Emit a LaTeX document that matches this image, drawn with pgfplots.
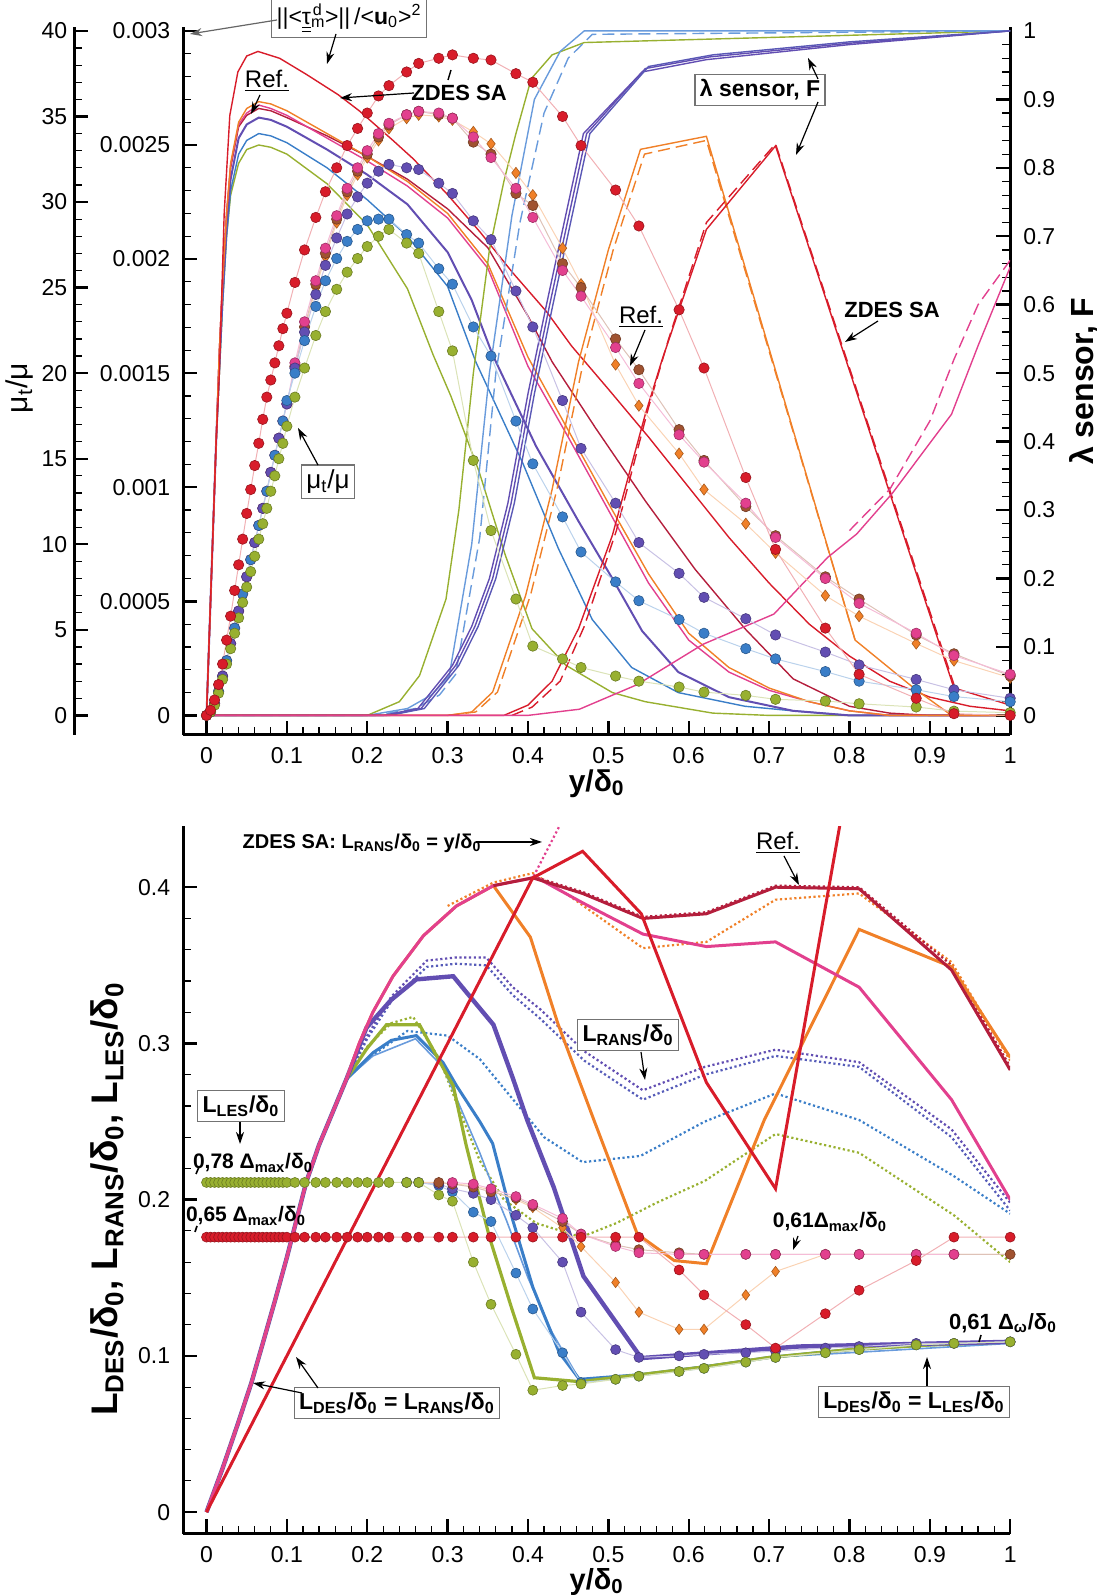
\documentclass[border=0pt]{standalone}
\usepackage{pgfplots}
\pgfplotsset{compat=1.18}
\usepackage{fontspec}
\setmainfont{Liberation Sans}
\usetikzlibrary{arrows.meta}

\definecolor{cRed}{RGB}{216,28,42}
\definecolor{cDRed}{RGB}{180,30,60}
\definecolor{cPink}{RGB}{226,64,142}
\definecolor{cOrange}{RGB}{240,128,40}
\definecolor{cBrown}{RGB}{160,82,48}
\definecolor{cViolet}{RGB}{98,78,178}
\definecolor{cBlue}{RGB}{58,126,200}
\definecolor{cLBlue}{RGB}{105,155,220}
\definecolor{cGreen}{RGB}{152,176,48}

\newcommand{\ssub}[1]{\textsubscript{#1}}
\newcommand{\dz}{δ\textsubscript{0}}

\pgfplotsset{
  geo/.style={scale only axis, width=413.5pt, height=353.6pt, xmin=-0.029, xmax=1},
  frame/.style={axis line style={line width=1.5pt}, tick align=inside,
    major tick length=7pt, minor tick length=4pt,
    major tick style={line width=1.2pt, black}, minor tick style={line width=0.6pt, black},
    tick label style={font=\fontsize{11.5}{13}\selectfont},
    /pgf/number format/assume math mode=true},
  tl/.style={line width=0.7pt, no markers},
  dot/.style={line width=0.5pt, color=#1!35, mark=*, mark size=2.6pt,
    mark options={fill=#1, draw=#1!70!black, line width=0.3pt, solid}},
  dia/.style={line width=0.5pt, color=#1!35, mark=diamond*, mark size=2.8pt,
    mark options={fill=#1, draw=#1!70!black, line width=0.3pt, solid}},
  bdot/.style={line width=0.5pt, color=#1!35, mark=*, mark size=2.5pt,
    mark options={fill=#1, draw=#1!70!black, line width=0.3pt, solid}},
  bdia/.style={line width=0.5pt, color=#1!35, mark=diamond*, mark size=2.6pt,
    mark options={fill=#1, draw=#1!70!black, line width=0.3pt, solid}},
  dott/.style={line width=1.1pt, dash pattern=on 1.1pt off 1.3pt, no markers},
}

\begin{document}
\begin{tikzpicture}
\path[use as bounding box] (0,0) rectangle (548.5pt,797.5pt);

%================ TOP PANEL: tau lines =================
\begin{axis}[geo, at={(91.6pt,430.15pt)}, anchor=south west,
  ymin=-0.0000845, ymax=0.003015,
  axis x line*=bottom, axis y line*=left,
  xtick={0,0.1,0.2,0.3,0.4,0.5,0.6,0.7,0.8,0.9,1}, minor x tick num=4,
  ytick={0,0.0005,0.001,0.0015,0.002,0.0025,0.003}, minor y tick num=4,
  scaled y ticks=false,
  yticklabel style={/pgf/number format/fixed, /pgf/number format/precision=4, xshift=-3pt},
  xticklabel style={/pgf/number format/fixed, /pgf/number format/precision=1, yshift=-3pt},
  xlabel={y/\dz}, xlabel style={font=\fontsize{15}{17}\selectfont\bfseries, at={(axis description cs:0.5,-0.069)}, anchor=center},
  frame]
\addplot[tl, cGreen] coordinates {(0,0)(0.004,0.0004)(0.008,0.0008)(0.012,0.0012)(0.016,0.0015)(0.02,0.0018)(0.025,0.0021)(0.03,0.00228)(0.04,0.00242)(0.05,0.00248)(0.065,0.0025)(0.08,0.00249)(0.1,0.00246)(0.15,0.00233)(0.2,0.00215)(0.25,0.00187)(0.282,0.00158)(0.304,0.0014)(0.339,0.00107)(0.372,0.0007)(0.405,0.00038)(0.447,0.00022)(0.505,0.0001)(0.546,0.00006)(0.63,0.00001)(0.7,0)(1,0)};
\addplot[tl, cBlue] coordinates {(0,0)(0.004,0.0004)(0.008,0.0008)(0.012,0.0012)(0.016,0.0015)(0.02,0.0018)(0.025,0.0021)(0.03,0.0023)(0.04,0.00246)(0.05,0.00252)(0.065,0.00255)(0.08,0.00254)(0.1,0.00251)(0.15,0.0024)(0.2,0.00226)(0.25,0.0021)(0.3,0.00188)(0.335,0.00155)(0.393,0.00111)(0.438,0.00073)(0.48,0.00042)(0.529,0.00021)(0.587,0.0001)(0.67,0.00004)(0.73,0.00002)(0.8,0)(1,0)};
\addplot[tl, cViolet, line width=1pt] coordinates {(0,0)(0.004,0.0004)(0.008,0.0008)(0.012,0.0012)(0.016,0.00155)(0.02,0.00185)(0.025,0.00215)(0.03,0.00235)(0.04,0.00253)(0.05,0.00259)(0.065,0.00262)(0.08,0.00261)(0.1,0.00258)(0.125,0.00253)(0.15,0.00248)(0.2,0.00237)(0.25,0.00224)(0.3,0.00203)(0.33,0.00182)(0.356,0.00158)(0.41,0.00118)(0.463,0.00085)(0.505,0.0006)(0.542,0.00037)(0.587,0.00019)(0.65,0.00008)(0.73,0.00002)(0.8,0)(1,0)};
\addplot[tl, cDRed] coordinates {(0,0)(0.004,0.0004)(0.008,0.0008)(0.012,0.0012)(0.016,0.0016)(0.02,0.0019)(0.025,0.0022)(0.03,0.0024)(0.04,0.00258)(0.05,0.00263)(0.065,0.00266)(0.08,0.00265)(0.1,0.00262)(0.15,0.00254)(0.2,0.00245)(0.25,0.00235)(0.3,0.00222)(0.35,0.00205)(0.4,0.00175)(0.43,0.00155)(0.484,0.00126)(0.546,0.00094)(0.608,0.00064)(0.67,0.00038)(0.73,0.00016)(0.8,0.00004)(0.85,0.00001)(0.9,0)(1,0)};
\addplot[tl, cPink] coordinates {(0,0)(0.004,0.0004)(0.008,0.0008)(0.012,0.0012)(0.016,0.0016)(0.02,0.0019)(0.025,0.0022)(0.03,0.00241)(0.04,0.00259)(0.05,0.00264)(0.065,0.002675)(0.08,0.00266)(0.1,0.00263)(0.125,0.00258)(0.15,0.00253)(0.2,0.00243)(0.25,0.00232)(0.3,0.00218)(0.35,0.00196)(0.4,0.00153)(0.45,0.00122)(0.5,0.0009)(0.55,0.00058)(0.6,0.00033)(0.65,0.00019)(0.7,0.00011)(0.75,0.00006)(0.8,0.00002)(0.85,0)(1,0)};
\addplot[tl, cOrange] coordinates {(0,0)(0.004,0.0004)(0.008,0.0008)(0.012,0.0012)(0.016,0.0016)(0.02,0.0019)(0.025,0.0022)(0.03,0.00242)(0.04,0.0026)(0.05,0.00266)(0.065,0.00269)(0.08,0.00268)(0.1,0.00265)(0.125,0.0026)(0.15,0.00255)(0.2,0.00245)(0.25,0.00234)(0.3,0.0022)(0.35,0.00198)(0.4,0.00157)(0.45,0.00125)(0.5,0.00093)(0.55,0.00062)(0.6,0.00036)(0.65,0.00021)(0.7,0.00012)(0.75,0.00006)(0.8,0.00002)(0.85,0)(1,0)};
\addplot[tl, cRed] coordinates {(0,0)(0.004,0.0004)(0.008,0.0008)(0.012,0.0012)(0.016,0.0015)(0.022,0.0022)(0.029,0.00263)(0.039,0.00282)(0.05,0.00289)(0.064,0.00291)(0.091,0.00288)(0.124,0.00281)(0.164,0.00272)(0.19,0.00265)(0.232,0.00252)(0.257,0.00244)(0.298,0.00229)(0.34,0.00212)(0.381,0.00194)(0.423,0.00177)(0.454,0.00162)(0.5,0.00143)(0.55,0.00122)(0.6,0.001)(0.65,0.00078)(0.7,0.00058)(0.75,0.0004)(0.8,0.00026)(0.85,0.00015)(0.9,0.00008)(0.95,0.00004)(1,0.00002)};
\end{axis}

%================ TOP PANEL: lambda / F lines =================
\begin{axis}[geo, at={(91.6pt,430.15pt)}, anchor=south west,
  ymin=-0.0282, ymax=1.005,
  axis y line*=right, axis x line=none,
  ytick={0,0.1,0.2,0.3,0.4,0.5,0.6,0.7,0.8,0.9,1}, minor y tick num=4,
  yticklabel style={/pgf/number format/fixed, /pgf/number format/precision=1, xshift=3pt},
  ylabel={λ sensor, F}, ylabel style={font=\fontsize{16}{18}\selectfont\bfseries},
  frame]
\addplot[tl, cGreen] coordinates {(0,0)(0.2,0)(0.24,0.02)(0.265,0.058)(0.298,0.17)(0.314,0.3)(0.332,0.5)(0.352,0.68)(0.37,0.78)(0.385,0.85)(0.404,0.93)(0.43,0.965)(0.47,0.983)(1,1)};
\addplot[tl, cLBlue] coordinates {(0,0)(0.2,0)(0.25,0.01)(0.28,0.03)(0.302,0.058)(0.33,0.25)(0.352,0.5)(0.38,0.73)(0.408,0.9)(0.44,0.97)(0.47,1.0)(1,1)};
\addplot[tl, cLBlue, dashed, dash pattern=on 6pt off 3pt] coordinates {(0,0)(0.21,0)(0.26,0.01)(0.29,0.03)(0.31,0.06)(0.34,0.26)(0.36,0.5)(0.39,0.72)(0.42,0.88)(0.45,0.96)(0.48,0.995)(1,1)};
\addplot[tl, cViolet] coordinates {(0,0)(0.22,0)(0.263,0.01)(0.306,0.073)(0.33,0.13)(0.352,0.2)(0.375,0.31)(0.4,0.47)(0.423,0.6)(0.445,0.72)(0.469,0.85)(0.542,0.94)(0.622,0.958)(0.8,0.98)(1,1)};
\addplot[tl, cViolet] coordinates {(0,0)(0.224,0)(0.267,0.01)(0.31,0.073)(0.334,0.13)(0.356,0.2)(0.379,0.31)(0.404,0.47)(0.427,0.6)(0.449,0.72)(0.473,0.85)(0.546,0.945)(0.626,0.962)(0.8,0.982)(1,1)};
\addplot[tl, cViolet!80!cBlue] coordinates {(0,0)(0.228,0)(0.271,0.01)(0.314,0.073)(0.338,0.13)(0.36,0.2)(0.383,0.31)(0.408,0.47)(0.431,0.6)(0.453,0.72)(0.477,0.85)(0.55,0.948)(0.63,0.965)(0.8,0.984)(1,1)};
\addplot[tl, cOrange] coordinates {(0,0)(0.3,0)(0.33,0.005)(0.356,0.034)(0.397,0.175)(0.43,0.33)(0.463,0.517)(0.5,0.68)(0.54,0.827)(0.622,0.846)(0.807,0.11)(0.88,0.04)(0.927,0)(1,0)};
\addplot[tl, cOrange, dashed, dash pattern=on 6pt off 3pt] coordinates {(0.3,0)(0.335,0.005)(0.362,0.034)(0.403,0.175)(0.436,0.33)(0.469,0.517)(0.506,0.68)(0.545,0.82)(0.622,0.84)(0.807,0.11)};
\addplot[tl, cRed] coordinates {(0,0)(0.37,0)(0.4,0.015)(0.43,0.05)(0.463,0.127)(0.505,0.263)(0.546,0.44)(0.567,0.52)(0.622,0.71)(0.708,0.832)(0.93,0.04)(1,0.015)};
\addplot[tl, cRed, dashed, dash pattern=on 6pt off 3pt] coordinates {(0.38,0)(0.405,0.012)(0.44,0.05)(0.47,0.13)(0.51,0.27)(0.55,0.45)(0.575,0.55)(0.622,0.72)(0.708,0.835)(0.93,0.045)};
\addplot[tl, cPink] coordinates {(0,0)(0.4,0)(0.464,0.009)(0.536,0.045)(0.618,0.104)(0.706,0.148)(0.773,0.231)(0.809,0.265)(0.853,0.324)(0.927,0.44)(0.96,0.54)(1,0.655)};
\addplot[tl, cPink, dashed, dash pattern=on 6pt off 3pt] coordinates {(0.8,0.27)(0.85,0.33)(0.9,0.43)(0.93,0.52)(0.96,0.6)(1,0.665)};
\end{axis}

%================ TOP PANEL: mu_t/mu dots =================
\begin{axis}[geo, at={(91.6pt,430.15pt)}, anchor=south west,
  ymin=-1.127, ymax=40.2, hide axis]
\addplot[dia=cOrange] coordinates {(0.11,20.2)(0.122,22.5)(0.136,25.0)(0.148,26.8)(0.162,28.8)(0.175,30.4)(0.188,31.6)(0.2,32.6)(0.214,33.6)(0.227,34.3)(0.249,34.9)(0.264,35.1)(0.289,35.0)(0.306,34.8)(0.332,34.1)(0.354,33.4)(0.385,31.7)(0.406,30.4)(0.443,27.3)(0.466,25.2)(0.509,20.5)(0.538,18.1)(0.588,15.3)(0.619,13.2)(0.671,11.2)(0.708,9.5)(0.77,7.0)(0.812,5.8)(0.883,4.2)(0.93,3.2)(1.0,2.2)};
\addplot[dot=cBrown] coordinates {(0.11,20.4)(0.122,22.7)(0.136,25.2)(0.148,27.0)(0.162,29.0)(0.175,30.6)(0.188,31.8)(0.2,32.8)(0.214,33.8)(0.227,34.5)(0.249,35.1)(0.264,35.3)(0.289,35.1)(0.306,34.9)(0.332,33.5)(0.354,32.8)(0.385,30.5)(0.406,29.8)(0.443,26.4)(0.466,25.0)(0.509,22.0)(0.538,20.2)(0.588,16.7)(0.619,14.9)(0.671,12.2)(0.708,10.5)(0.77,8.1)(0.812,6.8)(0.883,4.7)(0.93,3.6)(1.0,2.3)};
\addplot[dot=cPink] coordinates {(0,0)(0.005,0.2)(0.01,0.7)(0.015,1.4)(0.02,2.3)(0.025,3.2)(0.03,4.2)(0.035,5.1)(0.04,6.1)(0.045,7.1)(0.05,8.1)(0.055,9.1)(0.06,10.1)(0.065,11.1)(0.07,12.1)(0.075,13.1)(0.08,14.2)(0.085,15.2)(0.09,16.2)(0.095,17.2)(0.1,18.2)(0.11,20.6)(0.122,23.0)(0.136,25.4)(0.148,27.3)(0.162,29.2)(0.175,30.8)(0.188,32.0)(0.2,33.0)(0.214,34.0)(0.227,34.6)(0.249,35.1)(0.264,35.3)(0.289,35.2)(0.306,34.9)(0.332,33.8)(0.354,32.6)(0.385,30.8)(0.406,29.1)(0.443,26.0)(0.466,24.5)(0.509,21.5)(0.538,19.4)(0.588,16.4)(0.619,14.8)(0.671,12.4)(0.708,10.4)(0.77,8.0)(0.812,6.55)(0.883,4.8)(0.93,3.5)(1.0,2.4)};
\addplot[dot=cViolet] coordinates {(0,0)(0.01,0.7)(0.02,2.3)(0.03,4.2)(0.04,6.1)(0.05,8.1)(0.06,10.1)(0.07,12.1)(0.08,14.2)(0.09,16.2)(0.1,18.2)(0.11,20.3)(0.122,22.4)(0.136,24.6)(0.148,26.3)(0.162,27.9)(0.175,29.3)(0.188,30.3)(0.2,31.1)(0.214,31.8)(0.227,32.2)(0.249,32.0)(0.264,31.9)(0.289,31.1)(0.306,30.5)(0.332,28.9)(0.354,27.8)(0.385,24.8)(0.406,22.7)(0.443,18.4)(0.466,15.6)(0.509,12.4)(0.538,10.1)(0.588,8.3)(0.619,6.9)(0.671,5.65)(0.708,4.7)(0.77,3.7)(0.812,2.95)(0.883,2.1)(0.93,1.5)(1.0,1.0)};
\addplot[dot=cBlue] coordinates {(0,0)(0.005,0.2)(0.015,1.4)(0.025,3.2)(0.035,5.1)(0.045,7.1)(0.055,9.1)(0.065,11.1)(0.075,13.1)(0.085,15.2)(0.095,17.2)(0.1,18.4)(0.11,20.0)(0.122,21.9)(0.136,23.9)(0.148,25.4)(0.162,26.7)(0.175,27.7)(0.188,28.4)(0.2,28.9)(0.214,29.0)(0.227,29.0)(0.249,28.1)(0.264,27.6)(0.289,26.1)(0.306,25.2)(0.332,22.7)(0.354,21.0)(0.385,17.2)(0.406,14.7)(0.443,11.6)(0.466,9.55)(0.509,7.8)(0.538,6.7)(0.588,5.6)(0.619,4.8)(0.671,3.9)(0.708,3.3)(0.77,2.56)(0.812,2.0)(0.883,1.5)(0.93,1.1)(1.0,0.8)};
\addplot[dot=cGreen] coordinates {(0,0)(0.005,0.2)(0.01,0.6)(0.015,1.3)(0.02,2.1)(0.025,3.0)(0.03,3.9)(0.035,4.8)(0.04,5.7)(0.045,6.6)(0.05,7.5)(0.055,8.4)(0.06,9.3)(0.065,10.3)(0.07,11.2)(0.075,12.1)(0.08,13.1)(0.085,14.0)(0.09,15.0)(0.095,15.9)(0.1,16.9)(0.11,18.6)(0.122,20.3)(0.136,22.2)(0.148,23.6)(0.162,24.9)(0.175,25.9)(0.188,26.7)(0.2,27.4)(0.214,28.0)(0.227,28.4)(0.249,27.6)(0.264,27.0)(0.289,23.6)(0.306,21.3)(0.332,14.9)(0.354,10.8)(0.385,6.8)(0.406,4.05)(0.443,3.3)(0.466,2.8)(0.509,2.3)(0.538,2.0)(0.588,1.66)(0.619,1.36)(0.671,1.17)(0.708,0.94)(0.77,0.84)(0.812,0.68)(0.883,0.49)(0.93,0.25)(1.0,0.16)};
\addplot[dot=cRed] coordinates {(0,0)(0.005,0.3)(0.01,0.9)(0.015,1.8)(0.02,3.0)(0.025,4.4)(0.03,5.8)(0.035,7.3)(0.04,8.8)(0.045,10.3)(0.05,11.8)(0.055,13.2)(0.06,14.6)(0.065,15.9)(0.07,17.3)(0.075,18.6)(0.08,19.6)(0.085,20.6)(0.09,21.6)(0.095,22.6)(0.1,23.5)(0.11,25.3)(0.122,27.2)(0.136,29.1)(0.148,30.6)(0.162,32.0)(0.175,33.3)(0.188,34.3)(0.2,35.2)(0.214,36.2)(0.227,36.8)(0.249,37.6)(0.264,38.1)(0.289,38.4)(0.306,38.6)(0.332,38.4)(0.354,38.3)(0.385,37.5)(0.406,37.0)(0.443,35.0)(0.466,33.3)(0.509,30.7)(0.538,28.6)(0.588,23.7)(0.619,20.3)(0.671,13.9)(0.708,9.7)(0.77,5.1)(0.812,2.4)(0.883,1.0)(0.93,0.1)(1.0,0.0)};
\end{axis}

%================ TOP PANEL: mu_t/mu axis (offset left) =================
\begin{axis}[geo, at={(37.15pt,430.15pt)}, anchor=south west,
  ymin=-1.127, ymax=40.2,
  axis y line*=left, axis x line=none,
  ytick={0,5,10,15,20,25,30,35,40}, minor y tick num=4,
  ylabel={μ\textsubscript{t}/μ},
  ylabel style={font=\fontsize{15}{17}\selectfont, at={(axis description cs:-0.066,0.49)}, anchor=center},
  frame]
\addplot[draw=none] coordinates {(0,0)};
\end{axis}

%================ BOTTOM PANEL =================
\begin{axis}[geo, at={(91.6pt,30.75pt)}, anchor=south west,
  ymin=-0.0137, ymax=0.439,
  axis x line*=bottom, axis y line*=left,
  xtick={0,0.1,0.2,0.3,0.4,0.5,0.6,0.7,0.8,0.9,1}, minor x tick num=4,
  ytick={0,0.1,0.2,0.3,0.4}, minor y tick num=4,
  yticklabel style={/pgf/number format/fixed, /pgf/number format/precision=1, xshift=-3pt},
  xticklabel style={/pgf/number format/fixed, /pgf/number format/precision=1, yshift=-3pt},
  xlabel={y/\dz}, xlabel style={font=\fontsize{14.5}{16}\selectfont\bfseries, at={(axis description cs:0.5,-0.068)}, anchor=center},
  ylabel={L\ssub{DES}/\dz, L\ssub{RANS}/\dz, L\ssub{LES}/\dz},
  ylabel style={font=\fontsize{18.5}{20}\selectfont\bfseries, at={(axis description cs:-0.092,0.473)}, anchor=center},
  frame]
% dotted L_RANS
\addplot[dott, cGreen] coordinates {(0.174,0.277)(0.2,0.298)(0.23,0.313)(0.257,0.317)(0.29,0.29)(0.311,0.262)(0.34,0.225)(0.37,0.2)(0.41,0.185)(0.466,0.176)(0.51,0.185)(0.56,0.198)(0.62,0.212)(0.708,0.242)(0.812,0.23)(0.93,0.19)(1.0,0.16)};
\addplot[dott, cBlue] coordinates {(0.174,0.277)(0.2,0.29)(0.25,0.308)(0.3,0.305)(0.34,0.29)(0.38,0.265)(0.42,0.24)(0.468,0.224)(0.54,0.228)(0.62,0.25)(0.708,0.268)(0.812,0.251)(0.93,0.215)(1.0,0.191)};
\addplot[dott, cViolet] coordinates {(0.174,0.277)(0.2,0.305)(0.23,0.33)(0.274,0.353)(0.31,0.355)(0.348,0.355)(0.381,0.336)(0.415,0.322)(0.47,0.295)(0.543,0.27)(0.62,0.285)(0.708,0.296)(0.812,0.288)(0.927,0.245)(1.0,0.198)};
\addplot[dott, cViolet!70!cBlue] coordinates {(0.174,0.277)(0.2,0.303)(0.23,0.327)(0.274,0.349)(0.31,0.351)(0.348,0.35)(0.381,0.331)(0.415,0.316)(0.47,0.289)(0.543,0.264)(0.62,0.28)(0.708,0.292)(0.812,0.285)(0.927,0.24)(1.0,0.193)};
\addplot[dott, cOrange] coordinates {(0.3,0.388)(0.357,0.403)(0.406,0.409)(0.45,0.395)(0.543,0.361)(0.622,0.365)(0.708,0.392)(0.812,0.396)(0.927,0.352)(1.0,0.289)};
\addplot[dott, cDRed] coordinates {(0.406,0.407)(0.468,0.397)(0.543,0.381)(0.622,0.384)(0.708,0.401)(0.812,0.4)(0.927,0.35)(1.0,0.285)};
\addplot[dott, cPink] coordinates {(0,0)(0.46,0.46)};
% solid L_DES
\addplot[tl, cLBlue, line width=0.8pt] coordinates {(0,0)(0.02,0.028)(0.04,0.058)(0.056,0.083)(0.07,0.108)(0.085,0.135)(0.1,0.163)(0.112,0.187)(0.124,0.211)(0.14,0.235)(0.153,0.251)(0.174,0.277)(0.207,0.292)(0.26,0.303)(0.294,0.285)(0.311,0.265)(0.34,0.23)(0.361,0.202)(0.373,0.187)(0.4,0.15)(0.43,0.115)(0.466,0.083)(0.54,0.088)(0.7,0.099)(1,0.108)};
\addplot[tl, cBlue, line width=1.5pt] coordinates {(0,0)(0.02,0.028)(0.04,0.058)(0.056,0.083)(0.07,0.108)(0.085,0.135)(0.1,0.163)(0.112,0.187)(0.124,0.211)(0.14,0.235)(0.153,0.251)(0.174,0.277)(0.207,0.294)(0.23,0.302)(0.261,0.305)(0.294,0.288)(0.311,0.273)(0.34,0.25)(0.356,0.236)(0.381,0.187)(0.406,0.144)(0.439,0.102)(0.464,0.085)(0.54,0.088)(0.62,0.093)(0.7,0.099)(0.8,0.104)(0.9,0.107)(1,0.109)};
\addplot[tl, cGreen, line width=1.6pt] coordinates {(0,0)(0.02,0.028)(0.04,0.058)(0.056,0.083)(0.07,0.108)(0.085,0.135)(0.1,0.163)(0.112,0.187)(0.124,0.211)(0.14,0.235)(0.153,0.251)(0.174,0.277)(0.2,0.297)(0.224,0.312)(0.265,0.312)(0.298,0.281)(0.307,0.273)(0.323,0.235)(0.352,0.176)(0.38,0.13)(0.408,0.086)(0.464,0.0835)(0.54,0.088)(0.62,0.093)(0.7,0.099)(0.8,0.104)(0.9,0.107)(1,0.109)};
\addplot[tl, cViolet, line width=2.2pt] coordinates {(0,0)(0.02,0.028)(0.04,0.058)(0.056,0.083)(0.07,0.108)(0.085,0.135)(0.1,0.163)(0.112,0.187)(0.124,0.211)(0.14,0.235)(0.153,0.251)(0.174,0.277)(0.199,0.31)(0.23,0.328)(0.261,0.341)(0.307,0.343)(0.323,0.333)(0.357,0.312)(0.381,0.278)(0.399,0.251)(0.432,0.208)(0.469,0.151)(0.541,0.0986)(0.737,0.106)(1.0,0.109)};
\addplot[tl, cOrange, line width=1.5pt] coordinates {(0,0)(0.02,0.028)(0.04,0.058)(0.056,0.083)(0.07,0.108)(0.085,0.135)(0.1,0.163)(0.112,0.187)(0.124,0.211)(0.14,0.235)(0.153,0.251)(0.174,0.277)(0.19,0.3)(0.207,0.32)(0.232,0.343)(0.27,0.369)(0.311,0.388)(0.357,0.401)(0.403,0.368)(0.437,0.313)(0.482,0.251)(0.536,0.178)(0.582,0.161)(0.622,0.159)(0.694,0.251)(0.812,0.373)(0.927,0.349)(1.0,0.291)};
\addplot[tl, cPink, line width=1.5pt] coordinates {(0,0)(0.02,0.028)(0.04,0.058)(0.056,0.083)(0.07,0.108)(0.085,0.135)(0.1,0.163)(0.112,0.187)(0.124,0.211)(0.14,0.235)(0.153,0.251)(0.174,0.277)(0.19,0.3)(0.207,0.32)(0.232,0.343)(0.27,0.369)(0.311,0.388)(0.357,0.401)(0.406,0.406)(0.415,0.405)(0.468,0.39)(0.543,0.37)(0.622,0.362)(0.708,0.365)(0.812,0.336)(0.927,0.264)(1.0,0.2)};
\addplot[tl, cDRed, line width=1.5pt] coordinates {(0.357,0.401)(0.406,0.406)(0.468,0.396)(0.543,0.38)(0.622,0.383)(0.708,0.4)(0.812,0.399)(0.927,0.347)(1.0,0.283)};
\addplot[tl, cRed, line width=1.5pt] coordinates {(0,0)(0.406,0.406)(0.468,0.423)(0.541,0.383)(0.622,0.275)(0.708,0.207)(0.795,0.46)};
% L_LES dots
\addplot[bdot=cBlue] coordinates {(0.249,0.211)(0.264,0.211)(0.289,0.209)(0.306,0.205)(0.332,0.192)(0.354,0.186)(0.385,0.153)(0.406,0.130)(0.443,0.102)(0.466,0.083)(0.509,0.085)(0.538,0.087)(0.588,0.09)(0.619,0.092)(0.671,0.096)(0.708,0.099)(0.77,0.102)(0.812,0.104)(0.883,0.107)(0.93,0.108)(1.0,0.109)};
\addplot[bdot=cViolet] coordinates {(0.249,0.211)(0.264,0.211)(0.289,0.21)(0.306,0.207)(0.332,0.204)(0.354,0.2)(0.385,0.19)(0.406,0.182)(0.443,0.16)(0.466,0.128)(0.509,0.104)(0.538,0.099)(0.588,0.1)(0.619,0.101)(0.671,0.102)(0.708,0.103)(0.77,0.105)(0.812,0.106)(0.883,0.108)(0.93,0.108)(1.0,0.109)};
\addplot[bdia=cOrange] coordinates {(0.249,0.211)(0.264,0.211)(0.289,0.211)(0.306,0.21)(0.332,0.209)(0.354,0.206)(0.385,0.2)(0.406,0.195)(0.443,0.182)(0.466,0.17)(0.509,0.147)(0.538,0.128)(0.588,0.117)(0.619,0.117)(0.671,0.139)(0.708,0.154)(0.77,0.165)(0.812,0.165)(0.883,0.165)(0.93,0.165)(1.0,0.165)};
\addplot[bdot=cGreen] coordinates {(0,0.211)(0.005,0.211)(0.01,0.211)(0.015,0.211)(0.02,0.211)(0.025,0.211)(0.03,0.211)(0.035,0.211)(0.04,0.211)(0.045,0.211)(0.05,0.211)(0.055,0.211)(0.06,0.211)(0.065,0.211)(0.07,0.211)(0.075,0.211)(0.08,0.211)(0.085,0.211)(0.09,0.211)(0.095,0.211)(0.1,0.211)(0.11,0.211)(0.122,0.211)(0.136,0.211)(0.148,0.211)(0.162,0.211)(0.175,0.211)(0.188,0.211)(0.2,0.211)(0.214,0.211)(0.227,0.211)(0.249,0.211)(0.264,0.211)(0.289,0.203)(0.306,0.199)(0.332,0.160)(0.354,0.133)(0.385,0.101)(0.406,0.078)(0.443,0.081)(0.466,0.082)(0.509,0.085)(0.538,0.087)(0.588,0.090)(0.619,0.092)(0.671,0.096)(0.708,0.099)(0.77,0.102)(0.812,0.104)(0.883,0.107)(0.93,0.108)(1.0,0.109)};
\addplot[bdot=cBrown] coordinates {(0.289,0.211)(0.306,0.21)(0.332,0.208)(0.354,0.205)(0.385,0.201)(0.406,0.196)(0.443,0.186)(0.466,0.178)(0.509,0.171)(0.538,0.168)(0.588,0.166)(0.619,0.165)(0.671,0.165)(0.708,0.165)(0.77,0.165)(0.812,0.165)(0.883,0.165)(0.93,0.165)(1.0,0.165)};
\addplot[bdot=cPink] coordinates {(0.306,0.211)(0.332,0.21)(0.354,0.207)(0.385,0.202)(0.406,0.197)(0.443,0.188)(0.466,0.178)(0.509,0.17)(0.538,0.166)(0.588,0.165)(0.619,0.165)(0.671,0.165)(0.708,0.165)(0.77,0.165)(0.812,0.165)(0.883,0.165)(0.93,0.165)};
\addplot[bdot=cRed] coordinates {(0,0.176)(0.005,0.176)(0.01,0.176)(0.015,0.176)(0.02,0.176)(0.025,0.176)(0.03,0.176)(0.035,0.176)(0.04,0.176)(0.045,0.176)(0.05,0.176)(0.055,0.176)(0.06,0.176)(0.065,0.176)(0.07,0.176)(0.075,0.176)(0.08,0.176)(0.085,0.176)(0.09,0.176)(0.095,0.176)(0.1,0.176)(0.11,0.176)(0.122,0.176)(0.136,0.176)(0.148,0.176)(0.162,0.176)(0.175,0.176)(0.188,0.176)(0.2,0.176)(0.214,0.176)(0.227,0.176)(0.249,0.176)(0.264,0.176)(0.289,0.176)(0.306,0.176)(0.332,0.176)(0.354,0.176)(0.385,0.176)(0.406,0.176)(0.443,0.176)(0.466,0.176)(0.509,0.176)(0.538,0.176)(0.588,0.155)(0.619,0.139)(0.671,0.12)(0.708,0.105)(0.77,0.127)(0.812,0.142)(0.883,0.161)(0.93,0.176)(1.0,0.176)};
\end{axis}

%================ ANNOTATIONS (coordinates in image pixels) =================
\begin{scope}[shift={(0pt,797.5pt)}, x=0.5pt, y=-0.5pt]
\tikzset{box/.style={draw=black!55, line width=0.6pt, fill=white, inner sep=2.5pt},
         arr/.style={-{Stealth[length=6pt,width=4pt]}, line width=0.6pt}}
% top panel
\node[box, font=\fontsize{11.5}{13}\selectfont] at (349,18) {||<\underline{\underline{τ}}\textsubscript{m}\kern-0.55em\textsuperscript{d}\kern0.1em>||\,/<\textbf{u}\textsubscript{0}>\textsuperscript{2}};
\draw[arr, black!60] (277,20) -- (190,34);
\draw[arr] (336,34) -- (327,64);
\node[font=\fontsize{12}{14}\selectfont] at (267,81) {\underline{Ref.}};
\draw[arr] (260,95) -- (251,114);
\node[font=\fontsize{11}{13}\selectfont\bfseries] at (459,93) {ZDES SA};
\draw[arr] (414,93) -- (340,98);
\draw[line width=0.7pt] (448,80) -- (451,70);
\node[box, font=\fontsize{11.5}{13}\selectfont\bfseries] at (760,90) {λ sensor, F};
\draw[arr] (818,79) -- (808,58);
\draw[arr] (818,102) -- (796,155);
\node[font=\fontsize{12}{14}\selectfont] at (641,317) {\underline{Ref.}};
\draw[arr] (645,330) -- (630,366);
\node[font=\fontsize{11}{13}\selectfont\bfseries] at (892,310) {ZDES SA};
\draw[arr] (878,321) -- (845,342);
\node[box, font=\fontsize{13}{15}\selectfont] at (328,482) {μ\textsubscript{t}/μ};
\draw[arr] (318,465) -- (298,428);
% bottom panel
\node[font=\fontsize{10}{12}\selectfont\bfseries] at (362,843) {ZDES SA: L\ssub{RANS}/\dz\ = y/\dz};
\draw[arr] (476,842) -- (542,842);
\node[font=\fontsize{12}{14}\selectfont] at (778,843) {\underline{Ref.}};
\draw[arr] (784,856) -- (799,885);
\node[box, font=\fontsize{11.5}{13}\selectfont\bfseries] at (628,1035) {L\ssub{RANS}/\dz};
\draw[arr] (641,1052) -- (645,1080);
\node[box, font=\fontsize{11.5}{13}\selectfont\bfseries] at (241,1106) {L\ssub{LES}/\dz};
\draw[arr] (240,1122) -- (240,1144);
\node[font=\fontsize{10.5}{12}\selectfont\bfseries] at (253,1163) {0,78 Δ\ssub{max}/\dz};
\draw[line width=0.8pt] (196,1174) -- (199,1167);
\node[font=\fontsize{10.5}{12}\selectfont\bfseries] at (246,1216) {0,65 Δ\ssub{max}/\dz};
\draw[line width=0.8pt] (195,1232) -- (197,1226);
\node[font=\fontsize{10.5}{12}\selectfont\bfseries] at (830,1222) {0,61Δ\ssub{max}/\dz};
\draw[arr] (798,1236) -- (793,1250);
\node[font=\fontsize{11}{13}\selectfont\bfseries] at (1003,1323) {0,61 Δ\ssub{ω}/\dz};
\draw[line width=0.8pt] (979,1342) -- (981,1335);
\node[box, font=\fontsize{11.5}{13}\selectfont\bfseries] at (397,1403) {L\ssub{DES}/\dz\ = L\ssub{RANS}/\dz};
\draw[arr] (302,1393) -- (253,1383);
\draw[arr] (318,1388) -- (296,1357);
\node[box, font=\fontsize{11.5}{13}\selectfont\bfseries] at (914,1402) {L\ssub{DES}/\dz\ = L\ssub{LES}/\dz};
\draw[arr] (927,1386) -- (927,1357);
\end{scope}
\end{tikzpicture}
\end{document}
